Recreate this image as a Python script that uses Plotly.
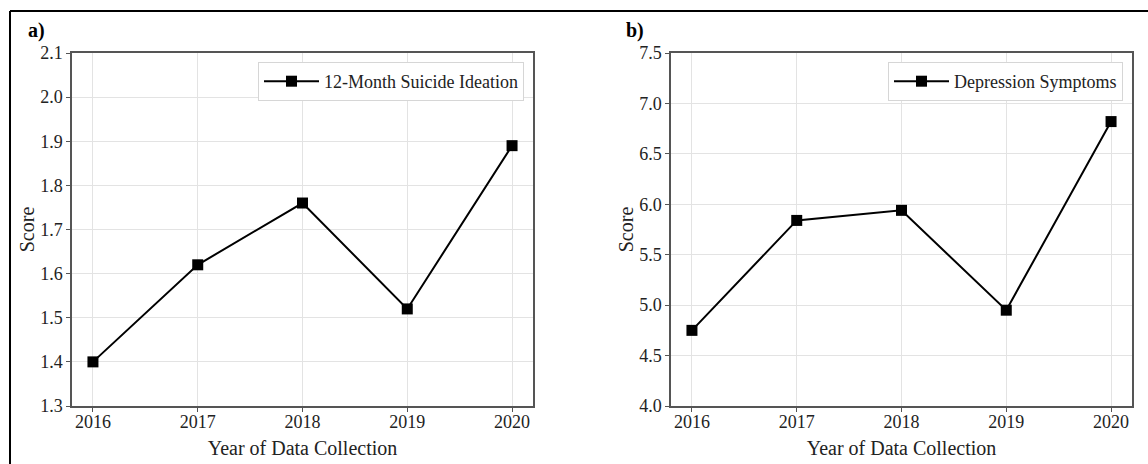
import plotly.graph_objects as go

W, H = 1148, 464

years = [2016, 2017, 2018, 2019, 2020]
ideation = [1.40, 1.62, 1.76, 1.52, 1.89]
depression = [4.75, 5.84, 5.94, 4.95, 6.82]

ideation_ticks = [1.3, 1.4, 1.5, 1.6, 1.7, 1.8, 1.9, 2.0, 2.1]
depression_ticks = [4.0, 4.5, 5.0, 5.5, 6.0, 6.5, 7.0, 7.5]

FONT = "Liberation Serif, Times New Roman, serif"
TXT = "#222222"
AX = "#555555"
GRID = "#e3e3e3"


def px(x):
    return x / W


def py(y):
    return 1 - y / H


fig = go.Figure()
fig.add_trace(go.Scatter(
    x=years, y=ideation, mode="lines+markers", name="12-Month Suicide Ideation",
    line=dict(color="black", width=2),
    marker=dict(symbol="square", size=11, color="black"),
    xaxis="x", yaxis="y", legend="legend", showlegend=True))
fig.add_trace(go.Scatter(
    x=years, y=depression, mode="lines+markers", name="Depression Symptoms",
    line=dict(color="black", width=2),
    marker=dict(symbol="square", size=11, color="black"),
    xaxis="x2", yaxis="y2", legend="legend2", showlegend=True))

common_x = dict(range=[2015.8, 2020.2], tickvals=years, ticktext=[str(v) for v in years],
                showgrid=True, gridcolor=GRID, gridwidth=1, showline=True, linecolor=AX,
                linewidth=1.5, mirror=True, ticks="outside", ticklen=4, tickcolor=AX,
                tickfont=dict(size=18, color=TXT, family=FONT), zeroline=False,
                automargin=False, ticklabelstandoff=-5,
                title=dict(text="Year of Data Collection", font=dict(size=20, color=TXT, family=FONT), standoff=10))
common_y = dict(showgrid=True, gridcolor=GRID, gridwidth=1, showline=True, linecolor=AX,
                linewidth=1.5, mirror=True, ticks="outside", ticklen=4, tickcolor=AX,
                tickfont=dict(size=18, color=TXT, family=FONT), zeroline=False,
                automargin=False,
                title=dict(text="Score", font=dict(size=20, color=TXT, family=FONT), standoff=0))

legend_style = dict(xanchor="right", yanchor="top", bgcolor="white", bordercolor="#d6d6d6",
                    borderwidth=1, itemwidth=55, font=dict(size=18, color=TXT, family=FONT))

ydom = [py(406), py(53)]
fig.update_layout(
    width=W, height=H,
    margin=dict(l=0, r=0, t=0, b=0),
    paper_bgcolor="white", plot_bgcolor="white",
    font=dict(family=FONT, color=TXT),
    showlegend=True,
    xaxis=dict(domain=[px(72), px(533)], anchor="y", **common_x),
    yaxis=dict(domain=ydom, anchor="x", range=[1.3, 2.1], tickvals=ideation_ticks,
               ticktext=[f"{v:.1f}" for v in ideation_ticks], **common_y),
    xaxis2=dict(domain=[px(671), px(1132)], anchor="y2", **common_x),
    yaxis2=dict(domain=ydom, anchor="x2", range=[4.0, 7.5], tickvals=depression_ticks,
                ticktext=[f"{v:.1f}" for v in depression_ticks], **common_y),
    legend=dict(x=px(524), y=py(62), **legend_style),
    legend2=dict(x=px(1123), y=py(62), **legend_style),
    annotations=[
        dict(text="<b>a)</b>", x=px(36), y=py(31), xref="paper", yref="paper",
             xanchor="center", yanchor="middle",
             showarrow=False, font=dict(size=20, color="black", family=FONT)),
        dict(text="<b>b)</b>", x=px(635), y=py(30), xref="paper", yref="paper",
             xanchor="center", yanchor="middle",
             showarrow=False, font=dict(size=20, color="black", family=FONT)),
    ],
    shapes=[
        dict(type="line", xref="paper", yref="paper", x0=px(10), x1=1.05, y0=py(11), y1=py(11),
             line=dict(color="black", width=2)),
        dict(type="line", xref="paper", yref="paper", x0=px(10), x1=px(10), y0=py(11), y1=-0.05,
             line=dict(color="black", width=2)),
    ],
)

fig.write_html("out.html", config={"displayModeBar": False},
               post_script="document.body.style.margin='0';")
